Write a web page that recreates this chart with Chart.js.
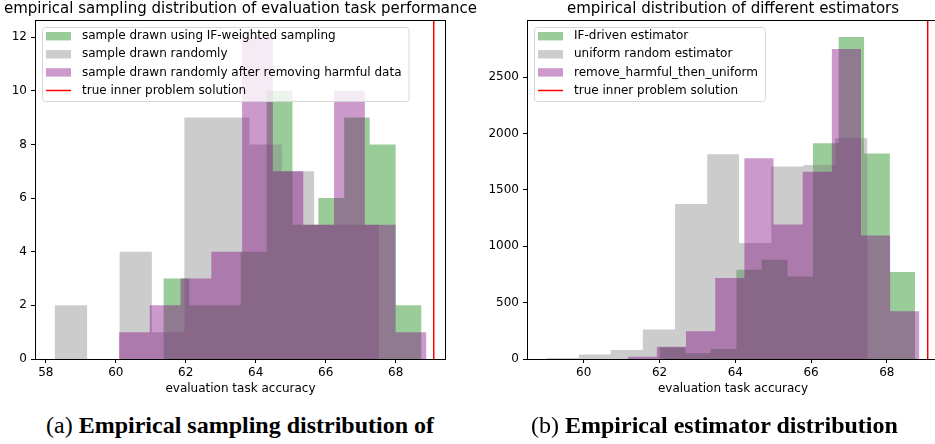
<!DOCTYPE html>
<html>
<head>
<meta charset="utf-8">
<script src="https://cdn.jsdelivr.net/npm/chart.js@4.4.1/dist/chart.umd.min.js"></script>
<style>
  body { margin: 0; width: 935px; height: 444px; overflow: hidden; background: #fff; position: relative; }
  canvas { position: absolute; top: 0; }
  #chartA { left: 0; }
  #chartB { left: 480px; }
  .caption { position: absolute; top: 413px; font-family: "Liberation Serif", serif; font-size: 24px; line-height: 24px; white-space: nowrap; color: #000; }
  .caption b { font-weight: bold; }
</style>
</head>
<body>
<canvas id="chartA" width="481" height="400"></canvas>
<canvas id="chartB" width="506" height="400"></canvas>
<div class="caption" style="left:46px">(a) <b>Empirical sampling distribution of</b></div>
<div class="caption" style="left:531px">(b) <b>Empirical estimator distribution</b></div>

<script>
// ---------- panel (a): sampled evaluation accuracy, 10 bins per series ----------
const greenEdgesA  = [61.36, 62.10, 62.84, 63.57, 64.31, 65.05, 65.79, 66.53, 67.26, 68.00, 68.74];
const greenCountsA = [3, 2, 2, 4, 10, 5, 6, 9, 8, 2];
const grayEdgesA   = [58.25, 59.18, 60.11, 61.03, 61.96, 62.89, 63.82, 64.75, 65.67, 66.60, 67.53];
const grayCountsA  = [2, 0, 4, 1, 9, 9, 8, 7, 5, 5];
const purpleEdgesA = [60.09, 60.97, 61.85, 62.73, 63.61, 64.49, 65.36, 66.24, 67.12, 68.00, 68.88];
const purpleCountsA = [1, 2, 3, 4, 12, 7, 5, 10, 5, 1];
const truthA = 69.09;
const xTicksA = [58, 60, 62, 64, 66, 68];
const yTicksA = [0, 2, 4, 6, 8, 10, 12];

// ---------- panel (b): estimator distribution ----------
const greenEdgesB  = [62.00, 62.68, 63.35, 64.03, 64.70, 65.38, 66.05, 66.73, 67.40, 68.08, 68.75];
const greenCountsB = [103, 50, 88, 792, 880, 733, 1914, 2856, 1823, 771];
const grayEdgesB   = [59.02, 59.87, 60.71, 61.56, 62.41, 63.26, 64.10, 64.95, 65.80, 66.64, 67.49];
const grayCountsB  = [8, 41, 80, 262, 1375, 1817, 1030, 1708, 1722, 1958];
const purpleEdgesB = [61.16, 61.93, 62.70, 63.47, 64.24, 65.01, 65.78, 66.55, 67.32, 68.09, 68.86];
const purpleCountsB = [20, 109, 247, 718, 1782, 1193, 1661, 2750, 1095, 424];
const truthB = 69.08;
const xTicksB = [60, 62, 64, 66, 68];
const yTicksB = [0, 500, 1000, 1500, 2000, 2500];

const FONT = '"DejaVu Sans", sans-serif';
const GREEN = 'rgba(0,128,0,0.4)';
const GRAY = 'rgba(128,128,128,0.4)';
const PURPLE = 'rgba(128,0,128,0.4)';

// histogram outline as a stepped, filled line: count i spans edges[i]..edges[i+1]
function histPoints(edges, counts) {
  const pts = counts.map((c, i) => ({ x: edges[i], y: c }));
  pts.push({ x: edges[edges.length - 1], y: counts[counts.length - 1] });
  return pts;
}

function histSet(label, edges, counts, color, order) {
  return {
    label, data: histPoints(edges, counts), stepped: true, fill: 'origin',
    backgroundColor: color, borderColor: 'rgba(0,0,0,0)', borderWidth: 0,
    pointRadius: 0, pointHoverRadius: 0, order
  };
}

/**************************************
 *  red truth line, frame, boxed legend
 **************************************/
const decorPlugin = {
  id: 'decor',
  afterDatasetsDraw(chart, args, opts) {
    const { ctx, chartArea: ca, scales } = chart;
    ctx.save();
    const x = scales.x.getPixelForValue(opts.truth);
    ctx.strokeStyle = '#ff0000';
    ctx.lineWidth = 1.5;
    ctx.beginPath(); ctx.moveTo(x, ca.top); ctx.lineTo(x, ca.bottom); ctx.stroke();

    ctx.strokeStyle = '#000';
    ctx.lineWidth = 1;
    ctx.strokeRect(ca.left - 0.5, ca.top - 0.5, ca.width + 1, ca.height + 1);

    const items = chart.data.datasets.map(d => ({ label: d.label, color: d.backgroundColor }));
    items.push({ label: opts.truthLabel, line: '#ff0000' });
    ctx.font = '12px ' + FONT;
    const textW = Math.max(...items.map(it => ctx.measureText(it.label).width));
    const bx = ca.left + 6, by = ca.top + 6, bw = 40 + textW + 7, bh = 74;
    ctx.beginPath();
    ctx.roundRect(bx + 0.5, by + 0.5, bw, bh, 3);
    ctx.fillStyle = 'rgba(255,255,255,0.8)';
    ctx.fill();
    ctx.strokeStyle = '#d6d6d6';
    ctx.stroke();

    items.forEach((it, i) => {
      const cy = by + 9.2 + i * 18.1;
      if (it.line) {
        ctx.strokeStyle = it.line; ctx.lineWidth = 1.5;
        ctx.beginPath(); ctx.moveTo(bx + 4, cy); ctx.lineTo(bx + 29, cy); ctx.stroke();
      } else {
        ctx.fillStyle = it.color;
        ctx.fillRect(bx + 4, cy - 4.2, 25, 8.4);
      }
      ctx.fillStyle = '#000';
      ctx.textBaseline = 'middle';
      ctx.textAlign = 'left';
      ctx.fillText(it.label, bx + 40, cy);
    });
    ctx.restore();
  }
};

function axisGrid(len) {
  return { display: true, drawOnChartArea: false, drawTicks: true, tickLength: len, color: '#000', tickWidth: 1 };
}

function makeChart(id, p) {
  const all = p.sets.flatMap(s => [s.edges[0], s.edges[s.edges.length - 1]]);
  const lo = Math.min(...all), hi = Math.max(...all);
  const pad = (hi - lo) * 0.05;
  const yMax = Math.max(...p.sets.flatMap(s => s.counts)) * 1.05;
  const order = [3, 2, 1];

  new Chart(document.getElementById(id), {
    type: 'line',
    data: {
      datasets: p.sets.map((s, i) => histSet(s.label, s.edges, s.counts, s.color, order[i]))
    },
    options: {
      responsive: false,
      animation: false,
      events: [],
      layout: { padding: { left: 0, right: 0, top: 0, bottom: 1 } },
      plugins: {
        legend: { display: false },
        tooltip: { enabled: false },
        title: {
          display: true, text: p.title, color: '#000',
          font: { family: FONT, size: 15, weight: 'normal' },
          padding: { top: 0, bottom: 3 }
        },
        decor: { truth: p.truth, truthLabel: 'true inner problem solution' }
      },
      scales: {
        x: {
          type: 'linear', min: lo - pad, max: hi + pad,
          afterBuildTicks: s => { s.ticks = p.xTicks.map(v => ({ value: v })); },
          afterFit: s => { s.height = 40; },
          grid: axisGrid(4),
          border: { display: false },
          ticks: { color: '#000', font: { family: FONT, size: 12 }, padding: 3, maxRotation: 0, autoSkip: false, callback: v => String(v) },
          title: { display: true, text: 'evaluation task accuracy', color: '#000', font: { family: FONT, size: 12 }, padding: { top: 0, bottom: 3 } }
        },
        y: {
          min: 0, max: yMax,
          afterBuildTicks: s => { s.ticks = p.yTicks.map(v => ({ value: v })); },
          afterFit: s => { s.width = p.yWidth; },
          grid: axisGrid(5),
          border: { display: false },
          ticks: { color: '#000', font: { family: FONT, size: 12 }, padding: 4, autoSkip: false, callback: v => String(v) }
        },
        // empty right-hand spacer so the title centres over the plot
        ySpacer: {
          position: 'right', display: true,
          afterFit: s => { s.width = p.yWidth; },
          grid: { display: false },
          border: { display: false },
          ticks: { display: false }
        }
      }
    },
    plugins: [decorPlugin]
  });
}

makeChart('chartA', {
  title: 'empirical sampling distribution of evaluation task performance',
  sets: [
    { label: 'sample drawn using IF-weighted sampling', edges: greenEdgesA, counts: greenCountsA, color: GREEN },
    { label: 'sample drawn randomly', edges: grayEdgesA, counts: grayCountsA, color: GRAY },
    { label: 'sample drawn randomly after removing harmful data', edges: purpleEdgesA, counts: purpleCountsA, color: PURPLE }
  ],
  truth: truthA, xTicks: xTicksA, yTicks: yTicksA, yWidth: 36
});

makeChart('chartB', {
  title: 'empirical distribution of different estimators',
  sets: [
    { label: 'IF-driven estimator', edges: greenEdgesB, counts: greenCountsB, color: GREEN },
    { label: 'uniform random estimator', edges: grayEdgesB, counts: grayCountsB, color: GRAY },
    { label: 'remove_harmful_then_uniform', edges: purpleEdgesB, counts: purpleCountsB, color: PURPLE }
  ],
  truth: truthB, xTicks: xTicksB, yTicks: yTicksB, yWidth: 48
});
</script>
</body>
</html>
